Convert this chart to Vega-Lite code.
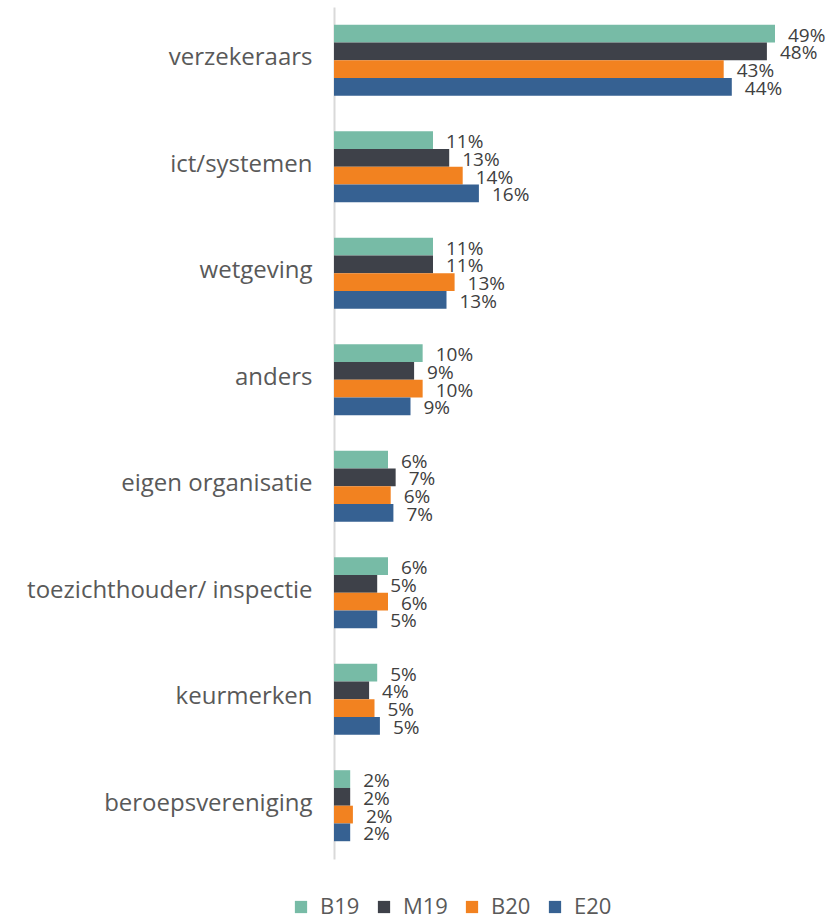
{
  "$schema": "https://vega.github.io/schema/vega-lite/v6.json",
  "width": 450,
  "height": 852,
  "autosize": "none",
  "padding": {"left": 334, "top": 7, "right": 53, "bottom": 62},
  "background": "white",
  "config": {"view": {"stroke": null}, "font": "Open Sans"},
  "data": {
    "values": [
      {"cat": "verzekeraars", "series": "B19", "value": 0.49, "label": "49%"},
      {"cat": "verzekeraars", "series": "M19", "value": 0.481, "label": "48%"},
      {"cat": "verzekeraars", "series": "B20", "value": 0.433, "label": "43%"},
      {"cat": "verzekeraars", "series": "E20", "value": 0.442, "label": "44%"},
      {"cat": "ict/systemen", "series": "B19", "value": 0.11, "label": "11%"},
      {"cat": "ict/systemen", "series": "M19", "value": 0.128, "label": "13%"},
      {"cat": "ict/systemen", "series": "B20", "value": 0.143, "label": "14%"},
      {"cat": "ict/systemen", "series": "E20", "value": 0.161, "label": "16%"},
      {"cat": "wetgeving", "series": "B19", "value": 0.11, "label": "11%"},
      {"cat": "wetgeving", "series": "M19", "value": 0.11, "label": "11%"},
      {"cat": "wetgeving", "series": "B20", "value": 0.134, "label": "13%"},
      {"cat": "wetgeving", "series": "E20", "value": 0.125, "label": "13%"},
      {"cat": "anders", "series": "B19", "value": 0.0985, "label": "10%"},
      {"cat": "anders", "series": "M19", "value": 0.089, "label": "9%"},
      {"cat": "anders", "series": "B20", "value": 0.0985, "label": "10%"},
      {"cat": "anders", "series": "E20", "value": 0.085, "label": "9%"},
      {"cat": "eigen organisatie", "series": "B19", "value": 0.06, "label": "6%"},
      {"cat": "eigen organisatie", "series": "M19", "value": 0.0685, "label": "7%"},
      {"cat": "eigen organisatie", "series": "B20", "value": 0.063, "label": "6%"},
      {"cat": "eigen organisatie", "series": "E20", "value": 0.066, "label": "7%"},
      {"cat": "toezichthouder/ inspectie", "series": "B19", "value": 0.06, "label": "6%"},
      {"cat": "toezichthouder/ inspectie", "series": "M19", "value": 0.048, "label": "5%"},
      {"cat": "toezichthouder/ inspectie", "series": "B20", "value": 0.06, "label": "6%"},
      {"cat": "toezichthouder/ inspectie", "series": "E20", "value": 0.048, "label": "5%"},
      {"cat": "keurmerken", "series": "B19", "value": 0.048, "label": "5%"},
      {"cat": "keurmerken", "series": "M19", "value": 0.039, "label": "4%"},
      {"cat": "keurmerken", "series": "B20", "value": 0.045, "label": "5%"},
      {"cat": "keurmerken", "series": "E20", "value": 0.051, "label": "5%"},
      {"cat": "beroepsvereniging", "series": "B19", "value": 0.018, "label": "2%"},
      {"cat": "beroepsvereniging", "series": "M19", "value": 0.018, "label": "2%"},
      {"cat": "beroepsvereniging", "series": "B20", "value": 0.021, "label": "2%"},
      {"cat": "beroepsvereniging", "series": "E20", "value": 0.018, "label": "2%"}
    ]
  },
  "encoding": {
    "y": {
      "field": "cat",
      "type": "nominal",
      "sort": ["verzekeraars", "ict/systemen", "wetgeving", "anders", "eigen organisatie", "toezichthouder/ inspectie", "keurmerken", "beroepsvereniging"],
      "scale": {"paddingInner": 0.333, "paddingOuter": 0.167},
      "axis": {
        "title": null,
        "labelFont": "Open Sans",
        "labelFontSize": 24,
        "labelColor": "#595959",
        "labelPadding": 22,
        "labelLimit": 400,
        "labelOffset": -2,
        "ticks": false,
        "domainColor": "#d9d9d9",
        "domainWidth": 2,
        "grid": false
      }
    },
    "yOffset": {"field": "series", "type": "nominal", "sort": ["B19", "M19", "B20", "E20"], "scale": {"paddingInner": 0, "paddingOuter": 0}},
    "x": {"field": "value", "type": "quantitative", "scale": {"domain": [0, 0.5], "nice": false, "zero": true}, "axis": null}
  },
  "layer": [
    {
      "mark": {"type": "bar", "clip": false},
      "encoding": {
        "color": {
          "field": "series",
          "type": "nominal",
          "sort": ["B19", "M19", "B20", "E20"],
          "scale": {"domain": ["B19", "M19", "B20", "E20"], "range": ["#77BBA6", "#3E4149", "#F28220", "#366192"]},
          "legend": {
            "title": null,
            "orient": "none",
            "direction": "horizontal",
            "legendX": -44,
            "legendY": 889,
            "symbolType": "square",
            "symbolSize": 150,
            "symbolStrokeWidth": 0,
            "labelFont": "Open Sans",
            "labelFontSize": 22,
            "labelColor": "#595959",
            "labelOffset": 8,
            "columnPadding": 13
          }
        }
      }
    },
    {
      "mark": {"type": "text", "align": "left", "baseline": "middle", "dx": 13, "dy": 2, "font": "Open Sans", "fontSize": 19, "color": "#404040"},
      "encoding": {"text": {"field": "label", "type": "nominal"}}
    }
  ]
}
